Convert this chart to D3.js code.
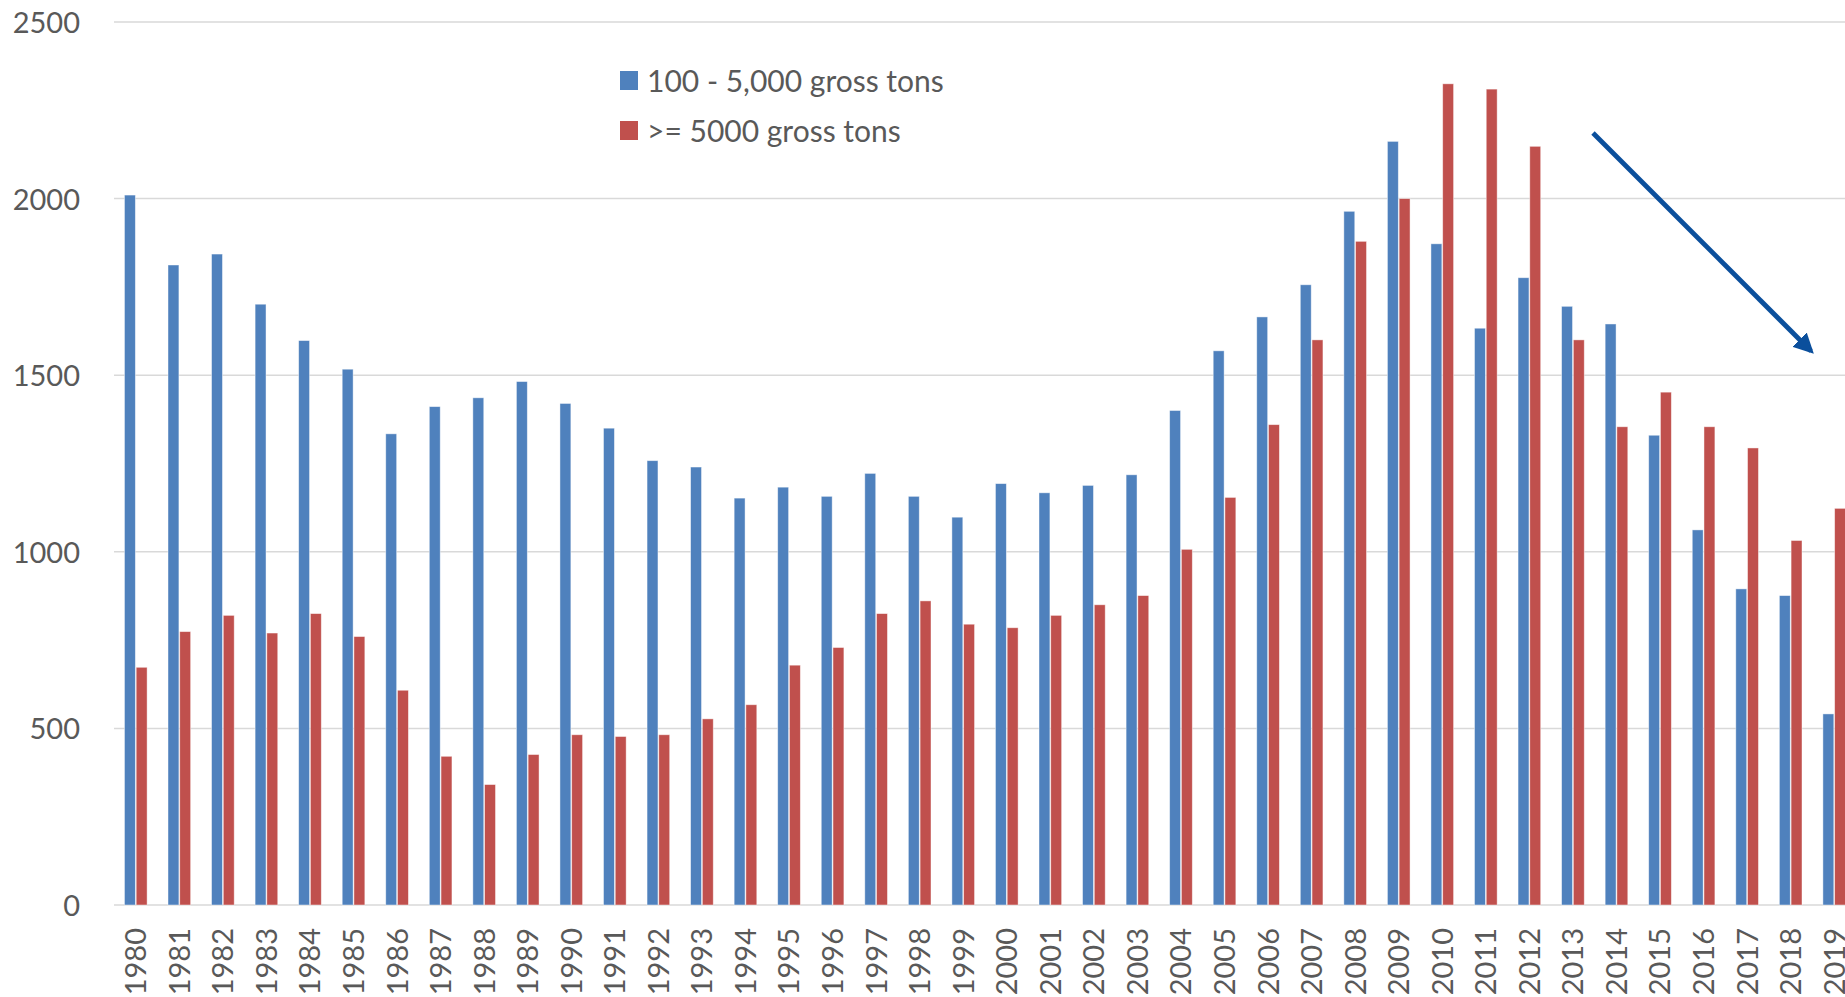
<!DOCTYPE html>
<html>
<head>
<meta charset="utf-8">
<script src="https://cdn.jsdelivr.net/npm/d3@7"></script>
<style>
  html, body { margin: 0; padding: 0; background: #ffffff; overflow: hidden; }
  svg { display: block; font-family: Lato, "Open Sans", sans-serif; }
</style>
</head>
<body>
<svg id="chart" width="1845" height="997"></svg>
<script>
// Vessel counts per year, split by tonnage class
const years = d3.range(1980, 2020).map(String);

const smallVessels = [
  2010, 1812, 1843, 1701, 1598, 1517, 1334, 1411, 1436, 1482,
  1420, 1350, 1258, 1240, 1152, 1183, 1157, 1222, 1157, 1098,
  1193, 1167, 1188, 1218, 1400, 1569, 1665, 1756, 1964, 2162,
  1872, 1633, 1776, 1695, 1645, 1330, 1062, 895, 876, 541
];

const largeVessels = [
  673, 774, 820, 770, 825, 760, 608, 421, 341, 426,
  482, 477, 482, 527, 567, 679, 729, 825, 861, 795,
  785, 820, 850, 876, 1007, 1154, 1360, 1600, 1879, 2000,
  2325, 2310, 2148, 1600, 1354, 1452, 1354, 1294, 1032, 1123
];

const seriesNames = ["100 - 5,000 gross tons", ">= 5000 gross tons"];
const seriesColors = ["#4F81BD", "#C0504D"];
const yTicks = [0, 500, 1000, 1500, 2000, 2500];

const rows = years.map((yr, i) => ({ year: yr, values: [smallVessels[i], largeVessels[i]] }));

const svg = d3.select("#chart");
const plotLeft = 114, plotRight = 1845, plotTop = 22, plotBottom = 905;

const x0 = d3.scaleBand()
  .domain(years)
  .range([plotLeft, plotLeft + 40 * 43.55])
  .paddingInner(0.48)
  .paddingOuter(0.24);

const x1 = d3.scaleBand()
  .domain([0, 1])
  .range([0, x0.bandwidth()])
  .paddingInner(0.07);

const y = d3.scaleLinear().domain([0, 2500]).range([plotBottom, plotTop]);

// horizontal gridlines
svg.append("g")
  .selectAll("line")
  .data(yTicks)
  .join("line")
  .attr("x1", plotLeft)
  .attr("x2", plotRight)
  .attr("y1", d => y(d))
  .attr("y2", d => y(d))
  .attr("stroke", "#d9d9d9")
  .attr("stroke-width", 1.5);

// y axis labels
const yAxis = d3.axisLeft(y).tickValues(yTicks).tickFormat(d3.format("d")).tickSize(0).tickPadding(0);
svg.append("g")
  .attr("transform", `translate(80,0)`)
  .call(yAxis)
  .call(g => g.select(".domain").remove())
  .selectAll("text")
  .attr("fill", "#595959")
  .attr("font-size", "29px")
  .attr("font-family", "Lato, 'Open Sans', sans-serif")
  .attr("dy", "0.36em");

// bars
const groups = svg.append("g")
  .selectAll("g")
  .data(rows)
  .join("g")
  .attr("transform", d => `translate(${x0(d.year)},0)`);

groups.selectAll("rect")
  .data(d => d.values.map((v, k) => ({ k, v })))
  .join("rect")
  .attr("x", d => x1(d.k))
  .attr("width", x1.bandwidth())
  .attr("y", d => y(d.v))
  .attr("height", d => y(0) - y(d.v))
  .attr("fill", d => seriesColors[d.k])
  .attr("stroke", "#ffffff")
  .attr("stroke-opacity", 0.55)
  .attr("stroke-width", 0.8);

// x axis labels, rotated
const xAxis = d3.axisBottom(x0).tickSize(0).tickPadding(0);
svg.append("g")
  .attr("transform", `translate(0,${plotBottom})`)
  .call(xAxis)
  .call(g => g.select(".domain").remove())
  .selectAll("text")
  .attr("fill", "#595959")
  .attr("font-size", "29px")
  .attr("font-family", "Lato, 'Open Sans', sans-serif")
  .attr("text-anchor", "end")
  .attr("transform", "rotate(-90)")
  .attr("x", -23)
  .attr("y", 0)
  .attr("dy", "0.36em");

// legend
const legend = svg.append("g").attr("transform", "translate(620,71)");
const legendRows = legend.selectAll("g")
  .data(seriesNames)
  .join("g")
  .attr("transform", (d, i) => `translate(0,${i * 50})`);
legendRows.append("rect")
  .attr("width", 18)
  .attr("height", 19)
  .attr("fill", (d, i) => seriesColors[i]);
legendRows.append("text")
  .attr("x", 27)
  .attr("y", 10)
  .attr("dy", "0.36em")
  .attr("fill", "#595959")
  .attr("font-size", "30px")
  .text(d => d);

// trend arrow
svg.append("defs").append("marker")
  .attr("id", "arrowhead")
  .attr("viewBox", "0 0 10 10")
  .attr("refX", 8)
  .attr("refY", 5)
  .attr("markerWidth", 4.2)
  .attr("markerHeight", 4.2)
  .attr("markerUnits", "strokeWidth")
  .attr("orient", "auto")
  .append("path")
  .attr("d", "M0,0 L10,5 L0,10 Z")
  .attr("fill", "#0B4F9C");

svg.append("line")
  .attr("x1", 1593)
  .attr("y1", 133)
  .attr("x2", 1811)
  .attr("y2", 351)
  .attr("stroke", "#0B4F9C")
  .attr("stroke-width", 4.8)
  .attr("marker-end", "url(#arrowhead)");
</script>
</body>
</html>
